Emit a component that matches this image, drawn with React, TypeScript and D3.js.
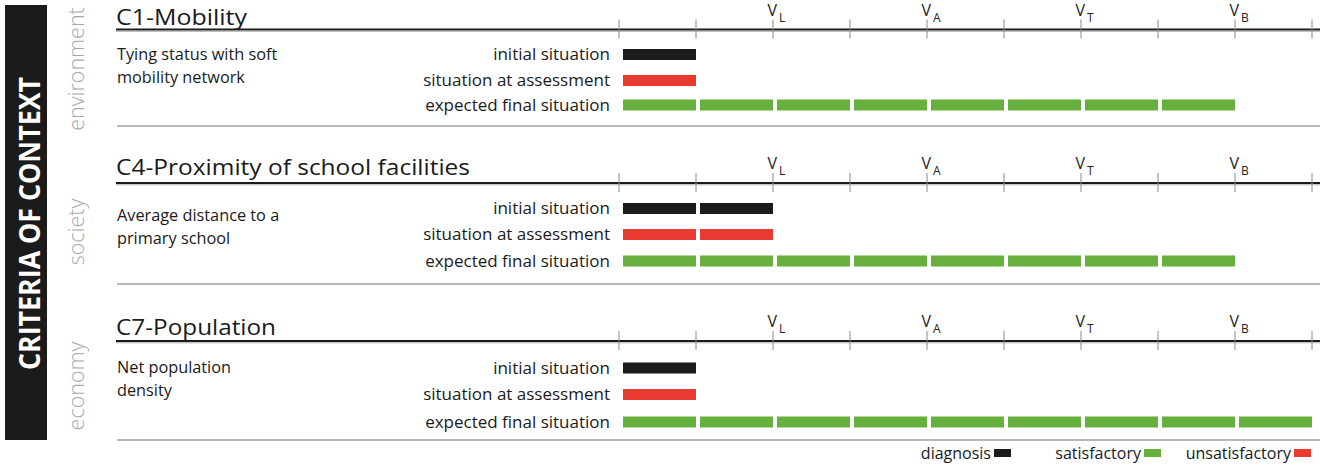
import React from "react";
import * as d3 from "d3";

const criteria = ["C1-Mobility", "C4-Proximity of school facilities", "C7-Population"];
const categories = ["environment", "society", "economy"];
const descriptions = [
  ["Tying status with soft", "mobility network"],
  ["Average distance to a", "primary school"],
  ["Net population", "density"],
];
const rowLabels = ["initial situation", "situation at assessment", "expected final situation"];
const initialSteps = [1, 2, 1];
const assessmentSteps = [1, 2, 1];
const expectedSteps = [8, 8, 9];
const thresholdLabels = [
  { step: 2, sub: "L" },
  { step: 4, sub: "A" },
  { step: 6, sub: "T" },
  { step: 8, sub: "B" },
];
const legendItems = [
  { label: "diagnosis", color: "#1b1b1b" },
  { label: "satisfactory", color: "#67b03e" },
  { label: "unsatisfactory", color: "#e83a30" },
];

const W = 1320;
const H = 467;
const FONT = "'Open Sans', 'DejaVu Sans', sans-serif";
const BLACK = "#1b1b1b";
const GREEN = "#67b03e";
const RED = "#e83a30";

// layout
const axisY = [29.5, 183, 341];
const rowY = [
  [54.5, 80.5, 105],
  [208.5, 234.5, 261],
  [368, 394.5, 422],
];
const sepY = [126, 284, 440];
const titleY = [24.5, 175, 335];
const titleWidth = [131, 354, 160];
const descY = [60, 221, 373];
const catY = [69, 232, 386];

export default function App() {
  const x = d3.scaleLinear().domain([0, 9]).range([619, 1312]);
  const steps = d3.range(0, 10);
  const barH = 11;
  const gap = 4;

  const seg = (n: number, yc: number, color: string, key: string) =>
    d3.range(n).map((i) => (
      <rect
        key={key + i}
        x={x(i) + gap}
        y={yc - barH / 2}
        width={x(i + 1) - x(i) - gap}
        height={barH}
        fill={color}
      />
    ));

  return (
    <svg
      width={W}
      height={H}
      style={{ position: "absolute", left: 0, top: 0, background: "#fff" }}
      fontFamily={FONT}
    >
      {/* left black band */}
      <rect x={5} y={5} width={42} height={435} fill={BLACK} />
      <text
        transform={`translate(40,223.5) rotate(-90)`}
        textAnchor="middle"
        fill="#fff"
        fontWeight={700}
        fontSize={29}
        textLength={293}
        lengthAdjust="spacingAndGlyphs"
      >
        CRITERIA OF CONTEXT
      </text>

      {categories.map((c, p) => (
        <text
          key={c}
          transform={`translate(84,${catY[p]}) rotate(-90)`}
          textAnchor="middle"
          fill="#aaaaaa"
          fontWeight={300}
          fontSize={21.5}
        >
          {c}
        </text>
      ))}

      {criteria.map((title, p) => (
        <g key={title}>
          <text
            x={116}
            y={titleY[p]}
            fontSize={22.5}
            fill="#1a1a1a"
            textLength={titleWidth[p]}
            lengthAdjust="spacingAndGlyphs"
          >
            {title}
          </text>
          <line x1={116} x2={W} y1={axisY[p]} y2={axisY[p]} stroke="#1a1a1a" strokeWidth={2} />
          <line x1={116} x2={W} y1={axisY[p] + 1.8} y2={axisY[p] + 1.8} stroke="#9a9a9a" strokeWidth={0.8} />
          {steps.map((s) => (
            <line
              key={s}
              x1={x(s)}
              x2={x(s)}
              y1={axisY[p] - 10}
              y2={axisY[p] + 9}
              stroke="#8a8a8a"
              strokeWidth={1}
            />
          ))}
          {thresholdLabels.map((t) => (
            <text key={t.sub} x={x(t.step) - 5.5} y={axisY[p] - 14} fontSize={16} fill="#222">
              V
              <tspan fontSize={12} dx={2} dy={6}>
                {t.sub}
              </tspan>
            </text>
          ))}
          {descriptions[p].map((d, i) => (
            <text key={d} x={117} y={descY[p] + i * 22.5} fontSize={16.3} fill="#1a1a1a">
              {d}
            </text>
          ))}
          {rowLabels.map((r, i) => (
            <text key={r} x={610} y={rowY[p][i] + 5.5} fontSize={17} fill="#1a1a1a" textAnchor="end">
              {r}
            </text>
          ))}
          {seg(initialSteps[p], rowY[p][0], BLACK, "i")}
          {seg(assessmentSteps[p], rowY[p][1], RED, "a")}
          {seg(expectedSteps[p], rowY[p][2], GREEN, "e")}
          <line x1={117} x2={W} y1={sepY[p]} y2={sepY[p]} stroke="#a0a0a0" strokeWidth={1.5} />
        </g>
      ))}

      {/* legend */}
      {(() => {
        const ends = [991, 1141, 1291];
        return legendItems.map((l, i) => (
          <g key={l.label}>
            <text x={ends[i]} y={459} fontSize={16} fill="#1a1a1a" textAnchor="end">
              {l.label}
            </text>
            <rect x={ends[i] + 3} y={449} width={17} height={8} fill={l.color} />
          </g>
        ));
      })()}
    </svg>
  );
}
